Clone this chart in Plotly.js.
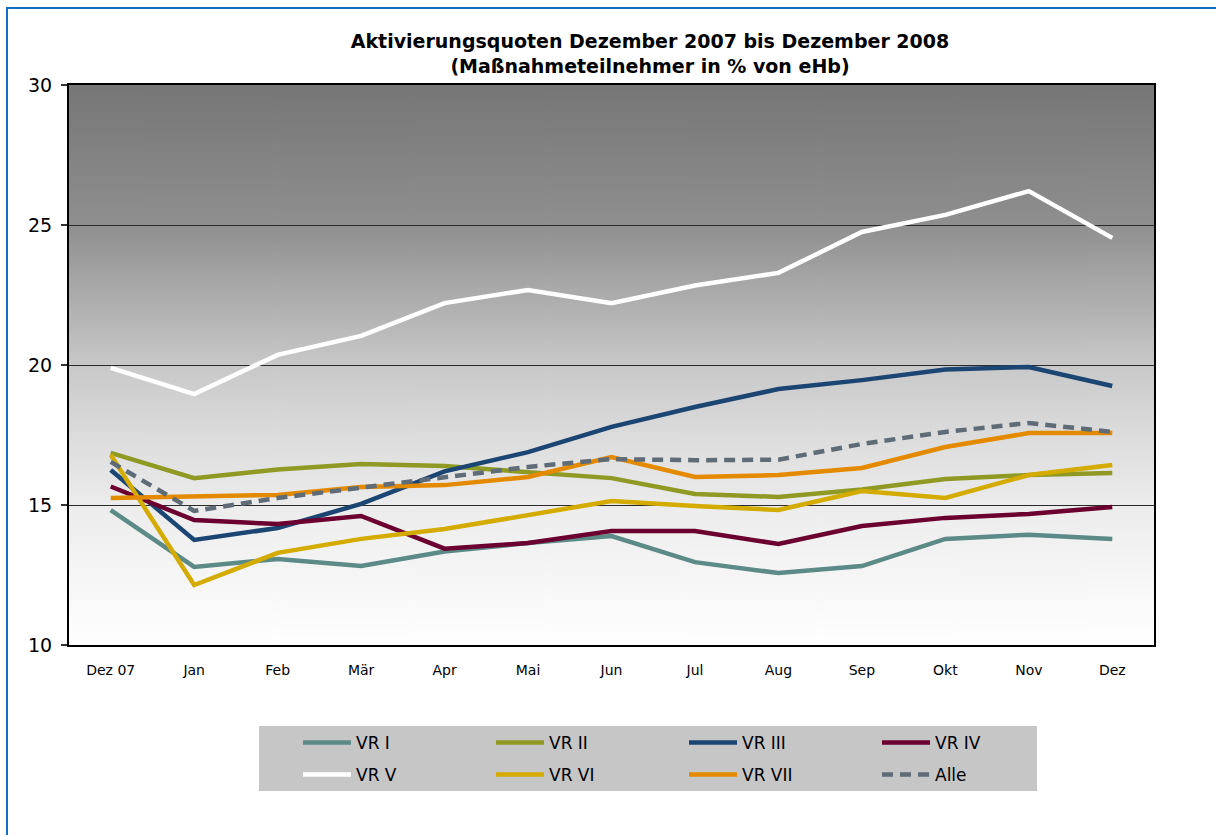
<!DOCTYPE html>
<html>
<head>
<meta charset="utf-8">
<script src="https://cdn.plot.ly/plotly-3.0.1.min.js"></script>
<style>
  html, body { margin: 0; padding: 0; background: #ffffff; }
  #chart { width: 1216px; height: 835px; }
</style>
</head>
<body>
<div id="chart"></div>
<script>
// ---- data ----
const months = ["Dez 07", "Jan", "Feb", "Mär", "Apr", "Mai", "Jun", "Jul", "Aug", "Sep", "Okt", "Nov", "Dez"];
const vr1  = [14.82, 12.79, 13.07, 12.82, 13.34, 13.64, 13.89, 12.96, 12.57, 12.82, 13.79, 13.94, 13.79];
const vr2  = [16.86, 15.96, 16.27, 16.46, 16.39, 16.18, 15.96, 15.39, 15.29, 15.55, 15.93, 16.07, 16.14];
const vr3  = [16.25, 13.75, 14.18, 15.04, 16.20, 16.89, 17.79, 18.50, 19.14, 19.46, 19.84, 19.93, 19.25];
const vr4  = [15.66, 14.46, 14.32, 14.61, 13.44, 13.64, 14.07, 14.07, 13.61, 14.25, 14.54, 14.68, 14.93];
const vr5  = [19.90, 18.96, 20.36, 21.04, 22.21, 22.68, 22.21, 22.84, 23.29, 24.75, 25.36, 26.21, 24.54];
const vr6  = [16.79, 12.14, 13.29, 13.79, 14.14, 14.64, 15.14, 14.96, 14.82, 15.50, 15.25, 16.07, 16.43];
const vr7  = [15.25, 15.29, 15.36, 15.64, 15.71, 16.00, 16.71, 16.00, 16.07, 16.32, 17.07, 17.57, 17.57];
const alle = [16.54, 14.79, 15.25, 15.61, 16.00, 16.36, 16.64, 16.60, 16.62, 17.18, 17.61, 17.93, 17.61];

const seriesNames = ["VR I", "VR II", "VR III", "VR IV", "VR V", "VR VI", "VR VII", "Alle"];
const seriesData  = [vr1, vr2, vr3, vr4, vr5, vr6, vr7, alle];
const seriesColors = ["#5b8a87", "#8e9a24", "#1b4572", "#6b0030", "#ffffff", "#d4ab00", "#e48a00", "#5f6b76"];
const seriesLegend = ["legend", "legend", "legend", "legend", "legend2", "legend2", "legend2", "legend2"];

// ---- geometry helpers (pixels -> paper) ----
const W = 1216, H = 835;
const L = 69, R = 1154, T = 85, B = 645;
const pw = R - L, ph = B - T;
const px = x => (x - L) / pw;
const py = y => (B - y) / ph;

// gradient background for the plot area
function gradientURL() {
  const c = document.createElement("canvas");
  c.width = 8; c.height = 560;
  const g = c.getContext("2d");
  const grd = g.createLinearGradient(0, 0, 0, 560);
  grd.addColorStop(0.00, "#767676");
  grd.addColorStop(0.25, "#8f8f8f");
  grd.addColorStop(0.50, "#c8c8c8");
  grd.addColorStop(0.62, "#dbdbdb");
  grd.addColorStop(0.75, "#ececec");
  grd.addColorStop(1.00, "#ffffff");
  g.fillStyle = grd;
  g.fillRect(0, 0, 8, 560);
  return c.toDataURL("image/png");
}

const traces = seriesNames.map((name, i) => ({
  type: "scatter",
  mode: "lines",
  name: name,
  x: months,
  y: seriesData[i],
  legend: seriesLegend[i],
  line: {
    color: seriesColors[i],
    width: 4.5,
    dash: name === "Alle" ? "11px,7px" : "solid"
  },
  hoverinfo: "x+y+name"
}));

const legendCommon = {
  orientation: "h",
  bgcolor: "rgba(0,0,0,0)",
  borderwidth: 0,
  font: { family: "DejaVu Sans, Verdana, sans-serif", size: 17, color: "#000000" },
  xanchor: "left",
  yanchor: "middle",
  entrywidth: 130,
  entrywidthmode: "pixels",
  traceorder: "normal",
  itemwidth: 48
};

const layout = {
  width: W,
  height: H,
  margin: { l: L, r: W - R, t: T, b: H - B, autoexpand: false },
  paper_bgcolor: "#ffffff",
  plot_bgcolor: "rgba(0,0,0,0)",
  font: { family: "DejaVu Sans, Verdana, sans-serif", color: "#000000" },
  title: {
    text: "Aktivierungsquoten Dezember 2007 bis Dezember 2008<br>(Maßnahmeteilnehmer in % von eHb)",
    font: { family: "DejaVu Sans, Verdana, sans-serif", size: 19, weight: 700, color: "#000000" },
    xref: "container",
    x: 650 / W,
    xanchor: "center",
    yref: "container",
    y: 1 - 48 / H,
    yanchor: "top"
  },
  xaxis: {
    type: "category",
    range: [-0.5, 12.5],
    showgrid: false,
    zeroline: false,
    showline: true,
    linecolor: "#000000",
    linewidth: 2,
    mirror: true,
    ticks: "",
    ticklabelstandoff: 11,
    tickfont: { family: "DejaVu Sans, Verdana, sans-serif", size: 14, color: "#000000" },
    fixedrange: true
  },
  yaxis: {
    range: [10, 30],
    tickvals: [10, 15, 20, 25, 30],
    ticktext: ["10", "15", "20", "25", "30"],
    showgrid: true,
    gridcolor: "#2a2a2a",
    gridwidth: 1.3,
    zeroline: false,
    showline: true,
    linecolor: "#000000",
    linewidth: 2,
    mirror: true,
    ticks: "outside",
    ticklen: 6,
    tickwidth: 1.5,
    tickcolor: "#333333",
    ticklabelstandoff: 5,
    tickfont: { family: "DejaVu Sans, Verdana, sans-serif", size: 19, color: "#000000" },
    fixedrange: true
  },
  legend: Object.assign({}, legendCommon, { x: px(298), y: py(743) }),
  legend2: Object.assign({}, legendCommon, { x: px(298), y: py(775) }),
  images: [{
    source: gradientURL(),
    xref: "paper", yref: "paper",
    x: 0, y: 1, sizex: 1, sizey: 1,
    xanchor: "left", yanchor: "top",
    sizing: "stretch",
    layer: "below"
  }],
  shapes: [
    { type: "rect", xref: "paper", yref: "paper", layer: "below",
      x0: px(259), x1: px(1037), y0: py(791), y1: py(726),
      fillcolor: "#c6c6c6", line: { width: 0 } },
    { type: "rect", xref: "paper", yref: "paper", layer: "above",
      x0: px(7), x1: px(1240), y0: py(860), y1: py(8),
      fillcolor: "rgba(0,0,0,0)", line: { color: "#1170c4", width: 2 } }
  ],
  showlegend: true
};

Plotly.newPlot("chart", traces, layout, { displayModeBar: false, staticPlot: false });
</script>
</body>
</html>
